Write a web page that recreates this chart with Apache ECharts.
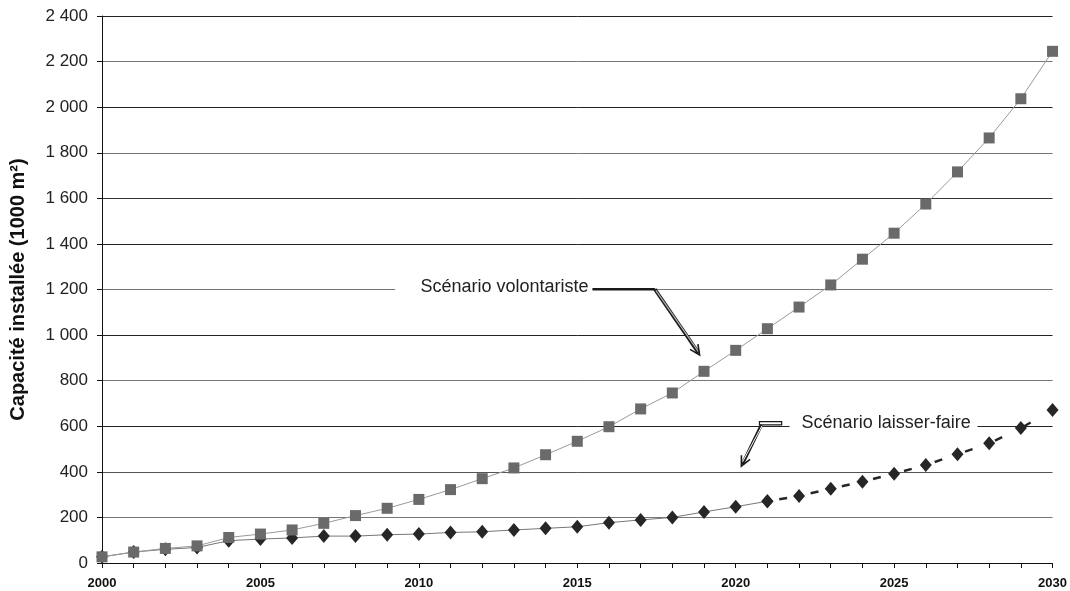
<!DOCTYPE html>
<html>
<head>
<meta charset="utf-8">
<script src="https://cdn.jsdelivr.net/npm/echarts@6/dist/echarts.min.js"></script>
<style>
html,body{margin:0;padding:0;background:#fff;}
#c{width:1070px;height:591px;}
</style>
</head>
<body>
<div id="c"></div>
<script>
const years = [2000,2001,2002,2003,2004,2005,2006,2007,2008,2009,2010,2011,2012,2013,2014,2015,2016,2017,2018,2019,2020,2021,2022,2023,2024,2025,2026,2027,2028,2029,2030];
const volontariste = [27,48,64,75,112,127,145,174,208,240,279,322,370,417,475,534,598,676,746,841,933,1028,1123,1220,1333,1447,1575,1716,1865,2037,2245];
const laisserFaireYears = [2000,2001,2002,2003,2004,2005,2006,2007,2008,2009,2010,2011,2012,2013,2014,2015,2016,2017,2018,2019,2020,2021];
const laisserFaire = [27,48,60,68,98,105,110,118,118,124,127,134,137,145,152,159,177,189,200,224,247,271];
const projectionYears = [2021,2022,2023,2024,2025,2026,2027,2028,2029,2030];
const projection = [271,294,326,357,392,430,477,525,592,671];
const yTicks = [0,200,400,600,800,1000,1200,1400,1600,1800,2000,2200,2400];
const yTitle = 'Capacité installée (1000 m²)';
const labelVol = 'Scénario volontariste';
const labelLF = 'Scénario laisser-faire';

const FONT = '"Liberation Sans", Arial, sans-serif';
const chart = echarts.init(document.getElementById('c'), null, {renderer:'canvas'});

function fmt(v){ return String(v).replace(/\B(?=(\d{3})+(?!\d))/g,' '); }

const option = {
  animation:false,
  backgroundColor:'#fff',
  grid:{left:102,right:17,top:16,bottom:28,containLabel:false},
  xAxis:{
    type:'value', min:2000, max:2030, interval:1,
    axisLine:{show:true,lineStyle:{color:'#111',width:1}},
    axisTick:{show:true,length:5,inside:false,lineStyle:{color:'#111'}},
    splitLine:{show:false},
    axisLabel:{
      margin:14, fontFamily:FONT, fontWeight:'bold', fontSize:13, color:'#111',
      formatter:function(v){ return v%5===0 ? String(v) : ''; }
    }
  },
  yAxis:{
    type:'value', min:yTicks[0], max:yTicks[yTicks.length-1], interval:200,
    name:yTitle, nameLocation:'middle', nameGap:74,
    nameTextStyle:{fontFamily:FONT,fontWeight:'bold',fontSize:20,color:'#111'},
    axisLine:{show:true,lineStyle:{color:'#111',width:1}},
    axisTick:{show:true,length:5,lineStyle:{color:'#111'}},
    splitLine:{show:true,lineStyle:{color:['#222','#777','#555','#222','#777','#222','#777','#222','#333','#777','#222','#777','#222'],width:1}},
    axisLabel:{margin:14,fontFamily:FONT,fontSize:17,color:'#222',formatter:fmt}
  },
  series:[
    {
      name:'laisser-faire', type:'line', clip:false, z:3,
      data:laisserFaireYears.map((y,i)=>[y,laisserFaire[i]]),
      symbol:'diamond', symbolSize:[12,14],
      itemStyle:{color:'#262626'},
      lineStyle:{color:'#777',width:1}
    },
    {
      name:'laisser-faire projection', type:'line', clip:false, z:3,
      data:projectionYears.map((y,i)=>[y,projection[i]]),
      symbol:'diamond', symbolSize:[12,14],
      itemStyle:{color:'#262626'},
      lineStyle:{color:'#262626',width:2.5,type:[8,24],dashOffset:-12}
    },
    {
      name:'volontariste', type:'line', clip:false, z:4,
      data:years.map((y,i)=>[y,volontariste[i]]),
      symbol:'rect', symbolSize:11,
      itemStyle:{color:'#6a6a6a'},
      lineStyle:{color:'#9a9a9a',width:1}
    }
  ]
};
chart.setOption(option);

function P(x,y){ return chart.convertToPixel({gridIndex:0},[x,y]); }

function arrowHead(tip, from, len){
  const dx = tip[0]-from[0], dy = tip[1]-from[1];
  const a = Math.atan2(dy,dx);
  const a1 = a + Math.PI - 0.45, a2 = a + Math.PI + 0.45;
  return {
    type:'polyline', z:20,
    shape:{points:[[tip[0]+len*Math.cos(a1),tip[1]+len*Math.sin(a1)],tip,[tip[0]+len*Math.cos(a2),tip[1]+len*Math.sin(a2)]]},
    style:{stroke:'#1a1a1a',lineWidth:1.6,fill:null}
  };
}

function buildGraphics(){
  const els = [];
  // Volontariste annotation
  const tV = P(2010.05,1210);
  const bgV0 = P(2009.25,1200);
  const leadEnd = P(2017.45,1205);
  const tipV = P(2018.86,913);
  els.push({type:'rect',z:10,shape:{x:bgV0[0],y:tV[1]-12,width:leadEnd[0]-bgV0[0]-60,height:22},style:{fill:'#fff'}});
  els.push({type:'text',z:11,style:{x:tV[0],y:tV[1],text:labelVol,font:'18px '+FONT,fill:'#222',textVerticalAlign:'middle',textAlign:'left'}});
  const leadStart = [tV[0]+172,leadEnd[1]+1];
  els.push({type:'line',z:12,shape:{x1:leadStart[0],y1:leadStart[1],x2:leadEnd[0],y2:leadStart[1]},style:{stroke:'#1a1a1a',lineWidth:2.5}});
  const sV = [leadEnd[0],leadStart[1]];
  els.push({type:'line',z:12,shape:{x1:sV[0],y1:sV[1],x2:tipV[0]-1,y2:tipV[1]-2},style:{stroke:'#1a1a1a',lineWidth:3.5}});
  els.push({type:'line',z:13,shape:{x1:sV[0]+1,y1:sV[1]+1,x2:tipV[0]-1,y2:tipV[1]-3},style:{stroke:'#b0b0b0',lineWidth:1.2}});
  els.push(arrowHead(tipV,sV,11));

  // Laisser-faire annotation
  const tL = P(2022.08,612);
  const bgL0 = P(2021.70,600);
  const bgL1 = P(2027.63,600);
  els.push({type:'rect',z:10,shape:{x:bgL0[0],y:tL[1]-12,width:bgL1[0]-bgL0[0],height:22},style:{fill:'#fff'}});
  els.push({type:'text',z:11,style:{x:tL[0],y:tL[1],text:labelLF,font:'18px '+FONT,fill:'#222',textVerticalAlign:'middle',textAlign:'left'}});
  const boxA = P(2020.75,620);
  const boxB = P(2021.45,606);
  els.push({type:'rect',z:12,shape:{x:boxA[0],y:boxA[1],width:boxB[0]-boxA[0],height:boxB[1]-boxA[1]},style:{fill:'#fff',stroke:'#1a1a1a',lineWidth:1.2}});
  const sL = [boxA[0]+2,boxB[1]];
  const tipL = P(2020.18,425);
  els.push({type:'line',z:12,shape:{x1:sL[0],y1:sL[1],x2:tipL[0]+1,y2:tipL[1]-2},style:{stroke:'#1a1a1a',lineWidth:3.2}});
  els.push({type:'line',z:13,shape:{x1:sL[0]+0.5,y1:sL[1]+1,x2:tipL[0]+1,y2:tipL[1]-4},style:{stroke:'#ffffff',lineWidth:1}});
  els.push(arrowHead(tipL,sL,11));
  chart.setOption({graphic:els});
}
buildGraphics();
</script>
</body>
</html>
